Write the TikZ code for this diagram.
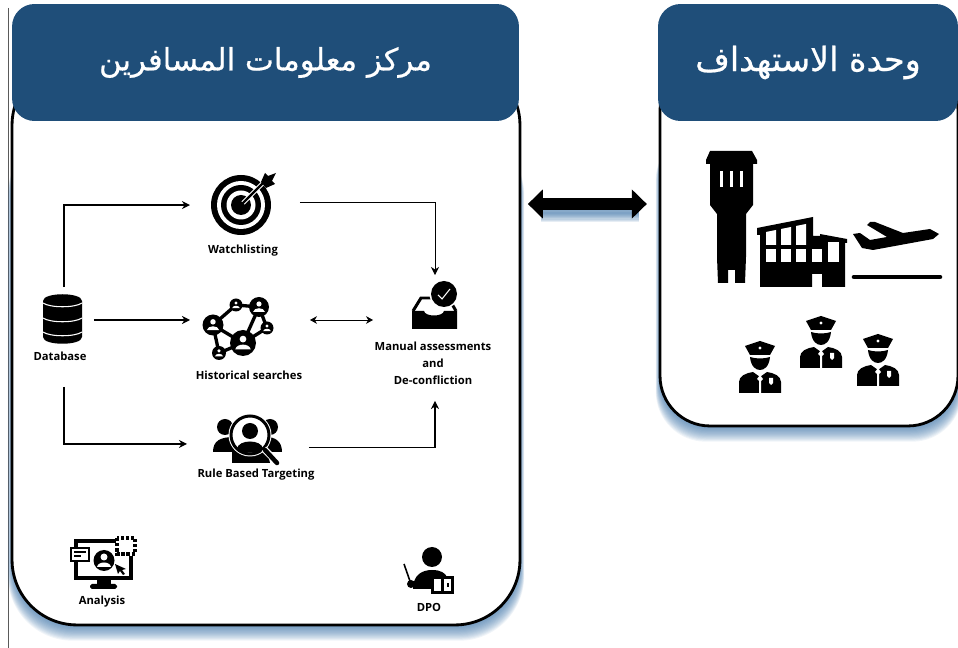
\documentclass[tikz,border=0pt]{standalone}
\usepackage{fontspec}
\usepackage{xcolor}
\usetikzlibrary{arrows.meta, positioning, calc}
\setsansfont{Open Sans}
\newfontfamily\arabicfont[Script=Arabic,FakeBold=0.6]{DejaVu Sans}
\TeXXeTstate=1
\definecolor{headerblue}{RGB}{31, 78, 121}
\definecolor{shadowblue}{RGB}{62, 116, 168}
\definecolor{edgegray}{RGB}{90, 90, 90}

\begin{document}
\begin{tikzpicture}[
    x=0.02cm,
    y=-0.02cm,
    panel/.style={
        rectangle,
        draw=black,
        fill=white,
        line width=1.6pt,
        inner sep=0pt,
        outer sep=0pt
    },
    header/.style={
        rectangle,
        rounded corners=0.45cm,
        fill=headerblue,
        text=white,
        inner sep=0pt,
        outer sep=0pt,
        minimum height=2.34cm,
        font=\arabicfont
    },
    iconbox/.style={
        rectangle,
        inner sep=0pt,
        outer sep=0pt
    },
    label/.style={
        font=\sffamily\bfseries\fontsize{6.4}{9.6}\selectfont,
        align=center,
        inner sep=0pt
    },
    arrow/.style={
        -{Stealth[length=4.6pt,width=4.6pt]},
        line width=0.8pt,
        black
    },
    bothways/.style={
        {Stealth[length=4pt,width=4.4pt]}-{Stealth[length=4pt,width=4.4pt]},
        line width=0.5pt,
        black
    },
    bigarrow/.style={
        {Triangle[length=8.5pt,width=16pt]}-{Triangle[length=8.5pt,width=16pt]},
        line width=7pt,
        black
    },
    officer/.pic={
        \fill (-15,-4) -- (0,-9) -- (15,-4) -- (10,5) -- (-10,5) -- cycle;
        \fill[white] (0,-2) circle (1.6);
        \fill (-10,7) .. controls (-9,17) and (-4,20) .. (0,20) .. controls (4,20) and (9,17) .. (10,7) .. controls (4,9) and (-4,9) .. (-10,7) -- cycle;
        \fill (-21,43) -- (-21,32) .. controls (-21,26) and (-14,23) .. (-7,22) -- (0,27) -- (7,22) .. controls (14,23) and (21,26) .. (21,32) -- (21,43) -- cycle;
        \fill[white] (-1,43) -- (-1,31) -- (-3,29) -- (0,25) -- (3,29) -- (1,31) -- (1,43) -- cycle;
        \fill[white] (9,28) -- (13,28) -- (13,33) -- (11,35) -- (9,33) -- cycle;
    }
]

\useasboundingbox (0,0) rectangle (958,648);
\clip (0,0) rectangle (958,648);

% Thin line at the left edge
\draw[edgegray, line width=0.5pt] (8.5,8) -- (8.5,648);

% Panel shadows
\foreach \xa/\xb/\yc/\rad in {12/520/625/1.3cm, 660/958/426/1cm} {
    \foreach \d in {0,...,14} {
        \fill[shadowblue, opacity=0.08, rounded corners=\rad]
            (\xa-\d*0.3,130) rectangle (\xb+\d*0.3,\yc+1+\d*1.05);
    }
}

% Panels
\node[panel, rounded corners=1.3cm, minimum width=10.16cm, minimum height=11.3cm] (hub) at (266,342.5) {};
\node[panel, rounded corners=1cm, minimum width=5.96cm, minimum height=7.32cm] (unit) at (809,243) {};

% Headers
\node[header, minimum width=10.14cm] (hubtitle) at (265.5,62.5)
    {\fontsize{17.5}{21}\selectfont\beginR مركز معلومات المسافرين\endR};
\node[header, minimum width=6cm] (unittitle) at (808,62.5)
    {\fontsize{19}{21}\selectfont\beginR وحدة الاستهداف\endR};

% Icon places
\node[iconbox, minimum width=1.2cm, minimum height=2cm] (database) at (64,337) {};
\node[iconbox, minimum width=2.2cm, minimum height=1.6cm] (watchlist) at (245,204) {};
\node[iconbox, minimum width=2.4cm, minimum height=1.6cm] (historical) at (250,320) {};
\node[iconbox, minimum width=2.44cm, minimum height=1.2cm] (rulebased) at (248,445) {};
\node[iconbox, minimum width=2.48cm, minimum height=2.52cm] (manual) at (435,338) {};
\coordinate (bigarrowlevel) at (590,204);

% Labels
\node[label] (databaselabel) at (60,356) {Database};
\node[label] (watchlistlabel) at (243,251) {Watchlisting};
\node[label] (historicallabel) at (249,375.5) {Historical searches};
\node[label] (rulebasedlabel) at (256,475) {Rule Based Targeting};
\node[label] (manuallabel) at (433,363.5) {Manual assessments\\and\\De-confliction};
\node[label] (analysislabel) at (102,601.5) {Analysis};
\node[label] (dpolabel) at (429,607) {DPO};

% Connections
\draw[arrow] (database.north) |- ([yshift=-0.6pt]watchlist.west);
\draw[arrow] (database.east |- historical.west) -- (historical.west);
\draw[arrow, line width=0.65pt] (database.south) |- ([yshift=0.6pt]rulebased.west);
\draw[arrow, line width=0.55pt] ([yshift=1pt]watchlist.east) -| (manual.north);
\draw[arrow, line width=0.65pt] ([yshift=-1.5pt]rulebased.east) -| (manual.south);
\draw[bothways] (historical.east) -- (historical.east -| manual.west);

% Link between the panels
\foreach \w in {1,...,8} {
    \draw[shadowblue, opacity=0.13, line width=\w*1.3pt, shorten <=12pt, shorten >=12pt]
        ([yshift=-5pt]hub.east |- bigarrowlevel) -- ([yshift=-5pt]unit.west |- bigarrowlevel);
}
\draw[bigarrow, shorten <=4.5pt, shorten >=7.5pt] (hub.east |- bigarrowlevel) -- (unit.west |- bigarrowlevel);

% Database icon
\fill (43,301) .. controls (43,292) and (82,292) .. (82,301) -- (82,337)
    .. controls (82,346) and (43,346) .. (43,337) -- cycle;
\foreach \yy in {303,318,332} {
    \draw[white, line width=0.6pt] (43,\yy) .. controls (50,\yy+5) and (75,\yy+5) .. (82,\yy);
}

% Watchlisting icon
\fill (241,205) circle (30);
\fill[white] (241,205) circle (24);
\fill (241,205) circle (20);
\fill[white] (241,205) circle (14.5);
\fill (241,205) circle (10);
\draw[white, line width=2.6pt] (243,203) -- (270,176);
\draw[line width=1.3pt] (241,205) -- (266,180);
\fill (261,182) -- (265,173) -- (268,176) -- (276,173) -- (272,181) -- (275,184) -- (266,188) -- cycle;

% Historical searches icon
\draw[line width=1.9pt] (236,305) -- (259,307) -- (243,343) -- (219,353) -- (213,325) -- (236,305);
\draw[line width=1.9pt] (259,307) -- (267,328) -- (243,343) -- (213,325);
\foreach \px/\py/\pr in {236/305/6.5, 259/307/10, 213/325/10.5, 267/328/6.5, 243/343/13, 219/353/7} {
    \fill (\px,\py) circle (\pr);
    \fill[white] (\px,\py-0.3*\pr) circle (0.26*\pr);
    \fill[white] (\px-0.6*\pr,\py+0.5*\pr) .. controls (\px-0.5*\pr,\py) and (\px+0.5*\pr,\py) .. (\px+0.6*\pr,\py+0.5*\pr) -- cycle;
}

% Rule based targeting icon
\fill (225,427) circle (8);
\fill (270,427) circle (8);
\fill (213,452) .. controls (213,441) and (220,437) .. (234,437) -- (234,452) -- cycle;
\fill (282,452) .. controls (282,441) and (275,437) .. (266,437) -- (266,452) -- cycle;
\fill (232,463) -- (232,447) -- (266,447) -- (270,463) -- cycle;
\fill[white] (250,435) circle (21.5);
\draw[line width=1.7pt] (250,435) circle (19);
\draw[white, line width=4pt] (264,449) -- (281,466);
\draw[line width=2.6pt, line cap=round] (265,450) -- (277,463);
\fill (250,431) circle (8);
\fill (237,449) .. controls (238,439) and (262,439) .. (263,449) .. controls (256,454) and (244,454) .. (237,449) -- cycle;

% Manual assessments icon
\fill (412,329) -- (457,329) -- (457,311) -- (444,311) .. controls (443,317) and (425,317) .. (424,311) -- (412,311) -- cycle;
\draw[line width=1.7pt] (413,311) -- (421,298) -- (432,298);
\draw[line width=1.7pt] (452,304) -- (456,311);
\fill[white] (444,294) circle (14.5);
\fill (444,294) circle (13);
\draw[white, line width=0.6pt] (438,295) -- (442,299) -- (450,289);

% Analysis icon
\draw[line width=2.1pt] (76,560) -- (76,578) -- (131,578) -- (131,541) -- (76,541) -- (76,548);
\fill (97,578) -- (111,578) -- (111,585) -- (97,585) -- cycle;
\fill[rounded corners=1pt] (90,584) rectangle (117,589);
\draw[line width=1.7pt, fill=white] (71,548) rectangle (89,561);
\draw[line width=1.1pt] (74,552) -- (86,552);
\draw[line width=1.1pt] (74,556) -- (81,556);
\fill[white] (116,536) rectangle (136,556);
\draw[line width=1.9pt, densely dotted] (117,538) rectangle (135,554);
\fill (104,560.5) circle (10.5);
\fill[white] (104,557) circle (3.5);
\fill[white] (97,567) .. controls (98,561) and (110,561) .. (111,567) -- cycle;
\fill (115,564) -- (126,569) -- (122,570) -- (125,574) -- (123,575) -- (120,571) -- (118,574) -- cycle;

% DPO icon
\fill (432,557) circle (10);
\fill (413,589) .. controls (413,575) and (422,570) .. (432,570) .. controls (441,570) and (445,573) .. (447,577) -- (431,577) -- (431,589) -- cycle;
\draw[line width=0.9pt] (404,564) -- (411,584);
\fill (411,584) circle (4);
\fill (431,576) rectangle (454,594);
\fill[white] (434,579) rectangle (441,591);
\fill[white] (444,579) rectangle (451,591);
\fill (447,583) rectangle (449,587);

% Tower icon
\fill (710,151) -- (752,151) -- (757,160) -- (757,164) -- (753,164) -- (753,205) -- (746,214) -- (746,257) -- (745,283) -- (735,283) -- (735,270) -- (728,270) -- (728,283) -- (718,283) -- (717,257) -- (717,214) -- (710,205) -- (710,164) -- (706,164) -- (706,160) -- cycle;
\foreach \wx in {720,730,740} {
    \fill[white] (\wx,171) rectangle (\wx+3,187);
}

% Terminal icon
\fill (757,228) -- (813,217) -- (813,236) -- (820,236) -- (820,234) -- (847,239) -- (847,243) -- (845,243) -- (845,287) -- (822,287) -- (822,274) -- (812,274) -- (812,287) -- (760,287) -- (760,235) -- (757,235) -- cycle;
\foreach \wx/\wy in {766/232, 781/229, 796/226} {
    \fill[white] (\wx,\wy) -- (\wx+10,\wy-2) -- (\wx+10,245) -- (\wx,245) -- cycle;
}
\foreach \wx in {766,781,796,812} {
    \fill[white] (\wx,249) rectangle (\wx+10,262);
}
\fill[white] (828,242) rectangle (839,262);

% Aeroplane icon
\fill (853,234) -- (860,233) -- (870,240) -- (887,237) -- (867,225) -- (870,222) -- (875,222) -- (903,233) -- (930,229) -- (939,234) -- (933,239) -- (873,250) -- (862,248) -- cycle;
\draw[line width=2.6pt, line cap=round] (854,277) -- (940,277);

% Officers icons
\foreach \ox/\oy in {760/350, 821/325, 878/343} {
    \pic at (\ox,\oy) {officer};
}

\end{tikzpicture}
\end{document}
